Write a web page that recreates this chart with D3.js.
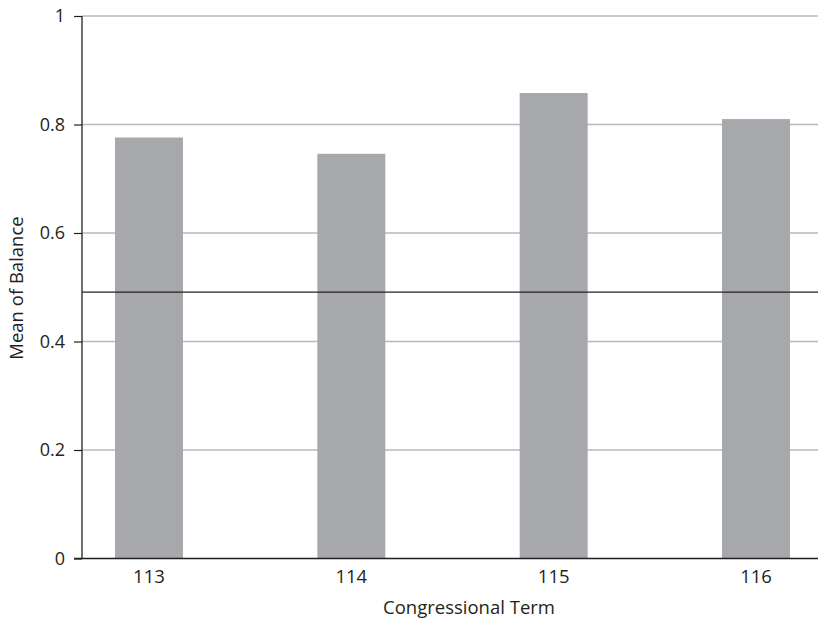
<!DOCTYPE html>
<html><head><meta charset="utf-8">
<script src="https://cdn.jsdelivr.net/npm/d3@7"></script>
<style>body{margin:0;background:#fff}svg{display:block}text{font-family:"Open Sans",sans-serif;fill:#231f20}</style>
</head><body><svg id="c" width="818" height="624"></svg>
<script>
const categories = ["113","114","115","116"];
const values = [0.776, 0.746, 0.858, 0.810];
const refLine = 0.491;
const yTicks = [0, 0.2, 0.4, 0.6, 0.8, 1];
const yTickLabels = ["0","0.2","0.4","0.6","0.8","1"];

const svg = d3.select("#c");
const x = d3.scaleBand().domain(categories).range([82, 823]).paddingInner(0.664).paddingOuter(0.163);
const y = d3.scaleLinear().domain([0,1]).range([558.5, 16]);

// gridlines
svg.append("g").selectAll("line").data(yTicks.filter(d=>d>0)).join("line")
  .attr("x1", 82).attr("x2", 818).attr("y1", d=>y(d)).attr("y2", d=>y(d))
  .attr("stroke", "#b8b9bb").attr("stroke-width", 1.3);

// bars
svg.append("g").selectAll("rect").data(values).join("rect")
  .attr("x", (d,i)=>x(categories[i])).attr("width", x.bandwidth())
  .attr("y", d=>y(d)).attr("height", d=>y(0)-y(d))
  .attr("fill", "#a7a8ab");

// reference line
svg.append("line").attr("x1", 82).attr("x2", 818).attr("y1", y(refLine)).attr("y2", y(refLine))
  .attr("stroke", "#231f20").attr("stroke-width", 1.2);

// y axis
const yAxis = d3.axisLeft(y).tickValues(yTicks).tickFormat((d,i)=>yTickLabels[i]).tickSize(8).tickPadding(9);
const gy = svg.append("g").attr("transform", "translate(82,0)").call(yAxis);
gy.select(".domain").remove();
gy.selectAll(".tick line").attr("stroke", "#231f20").attr("stroke-width", 1.2);
gy.selectAll("text").style("font-size", "18px").attr("fill", "#231f20");
svg.append("line").attr("x1", 82).attr("x2", 82).attr("y1", y(1)).attr("y2", y(0))
  .attr("stroke", "#231f20").attr("stroke-width", 1.3);

// x axis
const xAxis = d3.axisBottom(x).tickSize(0).tickPadding(11);
const gx = svg.append("g").attr("transform", `translate(0,${y(0)})`).call(xAxis);
gx.select(".domain").remove();
gx.selectAll("text").style("font-size", "18.5px").attr("fill", "#231f20");
svg.append("line").attr("x1", 74).attr("x2", 818).attr("y1", y(0)).attr("y2", y(0))
  .attr("stroke", "#231f20").attr("stroke-width", 1.4);

// titles
svg.append("text").attr("x", 469).attr("y", 614).attr("text-anchor", "middle")
  .style("font-size", "18.5px").text("Congressional Term");
svg.append("text").attr("transform", "translate(23,288) rotate(-90)").attr("text-anchor", "middle")
  .style("font-size", "18.5px").text("Mean of Balance");
</script></body></html>
